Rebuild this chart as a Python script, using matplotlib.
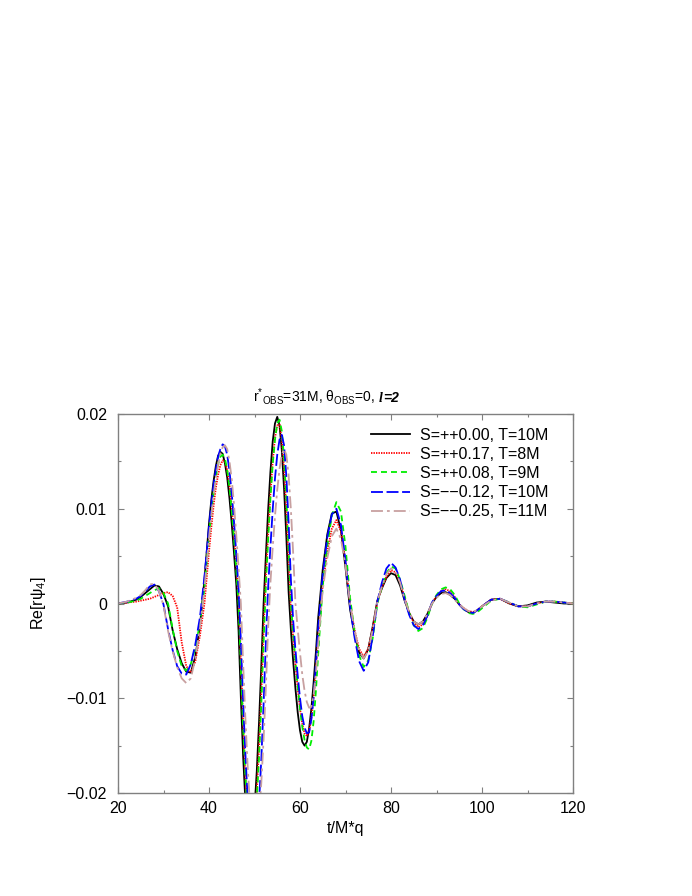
import numpy as np
import matplotlib
matplotlib.use('Agg')
import matplotlib.pyplot as plt
from matplotlib.ticker import MultipleLocator, FixedLocator, FixedFormatter

plt.rcParams['font.family'] = ['Liberation Sans', 'DejaVu Sans']
plt.rcParams['mathtext.fontset'] = 'custom'
plt.rcParams['mathtext.rm'] = 'Liberation Sans'
plt.rcParams['mathtext.it'] = 'Liberation Sans:italic'
plt.rcParams['mathtext.bf'] = 'Liberation Sans:bold'
plt.rcParams['lines.scale_dashes'] = False

# sample times (t/M*q), coarse at the ends, finer around the big peaks
t = np.r_[20, 22, 24:40.5:1, 40.5:64.5:0.5, 65:100.5:1, 102:120.5:2]

# Re[r psi_4], one list per run
s_p000_T10 = [
    0.0000, 0.0001, 0.0004, 0.0007, 0.0011, 0.0015, 0.0019, 0.0018, 0.0010, -0.0003,
    -0.0028, -0.0048, -0.0063, -0.0072, -0.0073, -0.0056, -0.0024, 0.0025, 0.0084,
    # 40.5 .. 64
    0.0109, 0.0129, 0.0145, 0.0156, 0.0160, 0.0158, 0.0148, 0.0133, 0.0111, 0.0084,
    0.0053, 0.0020, -0.0029, -0.0099, -0.0161, -0.0209, -0.0240, -0.0250, -0.0241, -0.0217,
    -0.0177, -0.0125, -0.0065, 0.0000, 0.0051, 0.0099, 0.0139, 0.0171, 0.0190, 0.0197,
    0.0188, 0.0162, 0.0121, 0.0070, 0.0012, -0.0028, -0.0061, -0.0090, -0.0115, -0.0134,
    -0.0146, -0.0150, -0.0146, -0.0132, -0.0111, -0.0083, -0.0051, -0.0015,
    # 65 .. 100
    0.0036, 0.0073, 0.0095, 0.0097, 0.0077, 0.0038, -0.0006, -0.0033, -0.0052, -0.0058,
    -0.0048, -0.0024, 0.0003, 0.0016, 0.0027, 0.0032, 0.0030, 0.0019, 0.0003, -0.0010,
    -0.0019, -0.0022, -0.0019, -0.0011, 0.0000, 0.0007, 0.0011, 0.0012, 0.0009, 0.0005,
    -0.0001, -0.0006, -0.0009, -0.0010, -0.0007, -0.0003,
    # 102 .. 120
    0.0004, 0.0005, 0.0000, -0.0003, -0.0002, 0.0001, 0.0002, 0.0001, 0.0000, 0.0000,
]

s_p017_T8 = [
    0.0000, 0.0001, 0.0002, 0.0003, 0.0004, 0.0005, 0.0007, 0.0009, 0.0011, 0.0012,
    0.0008, -0.0004, -0.0041, -0.0066, -0.0073, -0.0061, -0.0034, 0.0000, 0.0055,
    0.0080, 0.0103, 0.0122, 0.0136, 0.0146, 0.0151, 0.0150, 0.0141, 0.0125, 0.0102,
    0.0074, 0.0041, 0.0007, -0.0058, -0.0125, -0.0182, -0.0223, -0.0246, -0.0249, -0.0232,
    -0.0199, -0.0151, -0.0093, -0.0027, 0.0029, 0.0075, 0.0116, 0.0150, 0.0175, 0.0188,
    0.0189, 0.0173, 0.0142, 0.0098, 0.0046, -0.0006, -0.0036, -0.0065, -0.0090, -0.0111,
    -0.0127, -0.0137, -0.0140, -0.0135, -0.0121, -0.0099, -0.0070, -0.0036,
    0.0020, 0.0055, 0.0079, 0.0088, 0.0076, 0.0044, 0.0000, -0.0028, -0.0048, -0.0056,
    -0.0048, -0.0026, 0.0002, 0.0017, 0.0028, 0.0035, 0.0033, 0.0023, 0.0006, -0.0010,
    -0.0020, -0.0025, -0.0022, -0.0013, 0.0000, 0.0008, 0.0013, 0.0015, 0.0013, 0.0007,
    -0.0001, -0.0005, -0.0008, -0.0009, -0.0007, -0.0003,
    0.0004, 0.0005, 0.0000, -0.0003, -0.0003, 0.0000, 0.0002, 0.0002, 0.0001, 0.0000,
]

s_p008_T9 = [
    0.0000, 0.0001, 0.0003, 0.0005, 0.0008, 0.0011, 0.0014, 0.0016, 0.0011, 0.0000,
    -0.0027, -0.0050, -0.0066, -0.0071, -0.0064, -0.0047, -0.0021, 0.0017, 0.0072,
    0.0096, 0.0117, 0.0134, 0.0147, 0.0155, 0.0157, 0.0153, 0.0141, 0.0123, 0.0098,
    0.0068, 0.0035, 0.0000, -0.0067, -0.0130, -0.0181, -0.0222, -0.0244, -0.0250, -0.0237,
    -0.0207, -0.0162, -0.0105, -0.0040, 0.0020, 0.0068, 0.0111, 0.0147, 0.0173, 0.0190,
    0.0194, 0.0182, 0.0153, 0.0110, 0.0058, 0.0000, -0.0031, -0.0061, -0.0087, -0.0111,
    -0.0130, -0.0144, -0.0152, -0.0154, -0.0145, -0.0124, -0.0092, -0.0053,
    0.0019, 0.0061, 0.0093, 0.0107, 0.0097, 0.0060, 0.0006, -0.0030, -0.0055, -0.0067,
    -0.0060, -0.0036, 0.0000, 0.0018, 0.0032, 0.0039, 0.0037, 0.0025, 0.0008, -0.0010,
    -0.0023, -0.0029, -0.0026, -0.0015, 0.0000, 0.0009, 0.0015, 0.0017, 0.0015, 0.0009,
    0.0000, -0.0006, -0.0010, -0.0011, -0.0009, -0.0005,
    0.0003, 0.0005, 0.0001, -0.0003, -0.0004, -0.0001, 0.0002, 0.0002, 0.0001, 0.0000,
]

s_m012_T10 = [
    0.0000, 0.0002, 0.0005, 0.0008, 0.0013, 0.0018, 0.0020, 0.0013, -0.0001, -0.0027,
    -0.0049, -0.0066, -0.0074, -0.0075, -0.0064, -0.0043, -0.0015, 0.0028, 0.0081,
    0.0104, 0.0125, 0.0141, 0.0155, 0.0163, 0.0168, 0.0166, 0.0157, 0.0140, 0.0116,
    0.0086, 0.0052, 0.0015, -0.0039, -0.0103, -0.0159, -0.0206, -0.0239, -0.0257, -0.0259,
    -0.0243, -0.0210, -0.0164, -0.0106, -0.0041, 0.0017, 0.0060, 0.0099, 0.0132, 0.0157,
    0.0173, 0.0178, 0.0167, 0.0134, 0.0085, 0.0025, -0.0018, -0.0049, -0.0076, -0.0100,
    -0.0119, -0.0131, -0.0137, -0.0136, -0.0122, -0.0098, -0.0064, -0.0025,
    0.0031, 0.0070, 0.0094, 0.0100, 0.0083, 0.0045, -0.0003, -0.0036, -0.0061, -0.0071,
    -0.0062, -0.0034, 0.0002, 0.0022, 0.0037, 0.0043, 0.0038, 0.0025, 0.0004, -0.0012,
    -0.0023, -0.0027, -0.0023, -0.0013, 0.0001, 0.0008, 0.0013, 0.0014, 0.0011, 0.0006,
    -0.0001, -0.0006, -0.0009, -0.0010, -0.0007, -0.0003,
    0.0004, 0.0005, 0.0001, -0.0003, -0.0003, 0.0000, 0.0002, 0.0002, 0.0001, 0.0000,
]

s_m025_T11 = [
    0.0000, 0.0002, 0.0006, 0.0009, 0.0014, 0.0020, 0.0021, 0.0013, -0.0002, -0.0029,
    -0.0050, -0.0067, -0.0079, -0.0084, -0.0079, -0.0058, -0.0026, 0.0016, 0.0069,
    0.0093, 0.0114, 0.0132, 0.0147, 0.0158, 0.0165, 0.0167, 0.0163, 0.0150, 0.0131,
    0.0104, 0.0072, 0.0037, 0.0000, -0.0063, -0.0122, -0.0172, -0.0212, -0.0238, -0.0250,
    -0.0245, -0.0223, -0.0189, -0.0143, -0.0088, -0.0025, 0.0022, 0.0059, 0.0092, 0.0120,
    0.0142, 0.0157, 0.0163, 0.0157, 0.0135, 0.0099, 0.0053, 0.0000, -0.0027, -0.0052,
    -0.0075, -0.0092, -0.0104, -0.0110, -0.0109, -0.0096, -0.0074, -0.0043,
    0.0015, 0.0048, 0.0071, 0.0079, 0.0068, 0.0040, 0.0000, -0.0029, -0.0050, -0.0058,
    -0.0050, -0.0027, 0.0002, 0.0018, 0.0031, 0.0037, 0.0034, 0.0022, 0.0004, -0.0009,
    -0.0019, -0.0022, -0.0019, -0.0011, 0.0000, 0.0006, 0.0010, 0.0011, 0.0009, 0.0004,
    -0.0001, -0.0005, -0.0008, -0.0009, -0.0007, -0.0003,
    0.0003, 0.0005, 0.0001, -0.0003, -0.0003, 0.0000, 0.0002, 0.0002, 0.0001, 0.0000,
]

labels = ['S=++0.00, T=10M', 'S=++0.17, T=8M', 'S=++0.08, T=9M',
          'S=\u2212\u22120.12, T=10M', 'S=\u2212\u22120.25, T=11M']
series = [s_p000_T10, s_p017_T8, s_p008_T9, s_m012_T10, s_m025_T11]
colors = ['black', '#ff0000', '#00ee00', '#0000ff', '#c8a0a0']
dashes = [None, (1.0, 0.8), (4.3, 2.9), (8.6, 2.6), (8.6, 2.9, 2.0, 2.9)]

xticks = [20, 40, 60, 80, 100, 120]
yticks = [-0.02, -0.01, 0, 0.01, 0.02]
ytick_labels = ['\u22120.02', '\u22120.01', '0', '0.01', '0.02']

fig = plt.figure(figsize=(6.92, 8.96), dpi=100)
ax = fig.add_axes([118/692, 1 - 793/896, 455/692, 379/896])

for y, lab, c, d in zip(series, labels, colors, dashes):
    line, = ax.plot(t, y, color=c, lw=1.3, label=lab)
    if d is not None:
        line.set_dashes(d)

ax.set_xlim(20, 120)
ax.set_ylim(-0.02, 0.02)
ax.xaxis.set_major_locator(FixedLocator(xticks))
ax.xaxis.set_minor_locator(MultipleLocator(10))
ax.yaxis.set_major_locator(FixedLocator(yticks))
ax.yaxis.set_major_formatter(FixedFormatter(ytick_labels))
ax.yaxis.set_minor_locator(MultipleLocator(0.005))

grey = '#808080'
for sp in ax.spines.values():
    sp.set_color(grey)
    sp.set_linewidth(1.0)
ax.tick_params(which='both', direction='in', top=True, right=True,
               color=grey, labelcolor='black', labelsize=11.5)
ax.tick_params(which='major', length=4, width=0.8)
ax.tick_params(which='minor', length=2.5, width=0.8)
ax.tick_params(axis='x', pad=5.5)
ax.tick_params(axis='y', pad=8)

ax.set_xlabel('t/M*q', fontsize=11.5)
ax.xaxis.set_label_coords(0.5, -0.074)
ax.set_ylabel('Re[r\u03c8$_4$]', fontsize=11.5)
ax.yaxis.set_label_coords(-0.154, 0.5)

# title in pieces: sans part, then a serif bold-italic "l" and a bold oblique "=2"
title_y = 1.0317
t1 = ax.text(0.2967, title_y, 'r$^{*}{}_{\\mathrm{OBS}}$=31M, \u03b8$_{\\mathrm{OBS}}$=0,',
             transform=ax.transAxes, ha='left', va='baseline', fontsize=10)
fig.canvas.draw()
inv = ax.transAxes.inverted()
x_end = inv.transform((t1.get_window_extent().x1 + 4, 0))[0]
t2 = ax.text(x_end, title_y, 'l', transform=ax.transAxes, ha='left', va='baseline',
             fontsize=10, family='Liberation Serif', weight='bold', style='italic')
fig.canvas.draw()
x_end = inv.transform((t2.get_window_extent().x1 + 0.5, 0))[0]
ax.text(x_end, title_y, '=2', transform=ax.transAxes, ha='left', va='baseline',
        fontsize=10, weight='bold', style='italic')

ax.legend(loc='upper left', bbox_to_anchor=(0.556, 0.964), frameon=False,
          fontsize=11.5, handlelength=2.44, handletextpad=0.63,
          labelspacing=0.26, borderpad=0, borderaxespad=0)

plt.savefig('out.png', dpi=100)
